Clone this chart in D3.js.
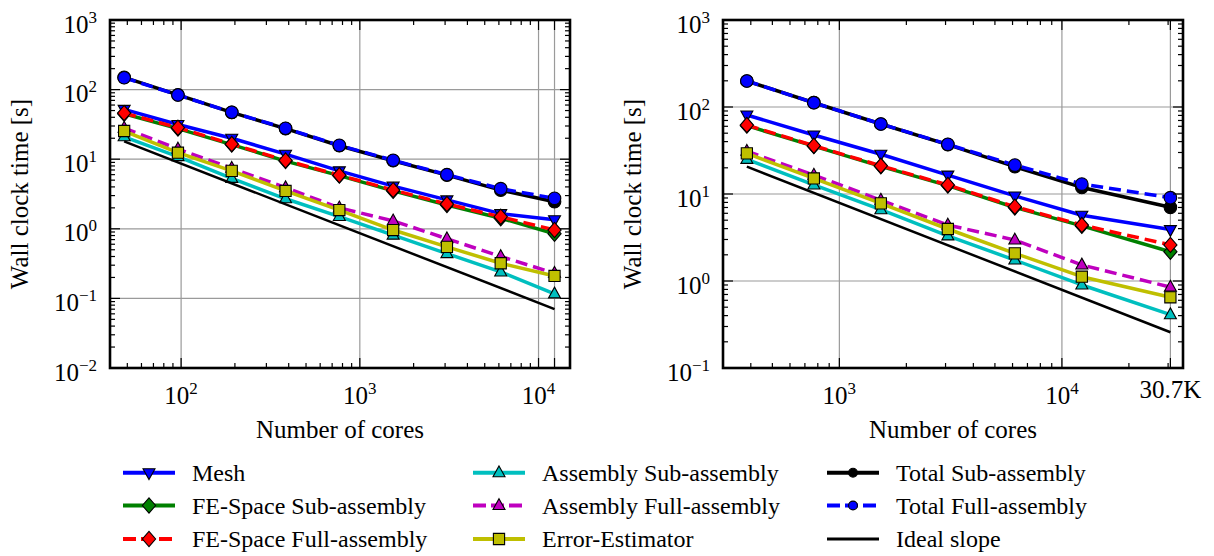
<!DOCTYPE html>
<html><head><meta charset="utf-8">
<script src="https://cdn.jsdelivr.net/npm/d3@7"></script>
<style>
body{margin:0;background:#fff}
svg{display:block}
svg text{font-family:"Liberation Serif","Tinos","Times New Roman","DejaVu Serif",serif;fill:#000}
</style>
</head><body>
<svg id="c" width="1214" height="556"></svg>
<script>
// ---------- data ----------
const seriesNames = ["Mesh","FE-Space Sub-assembly","FE-Space Full-assembly","Assembly Sub-assembly","Assembly Full-assembly","Error-Estimator","Total Sub-assembly","Total Full-assembly","Ideal slope"];

// left panel
const coresL = [48, 96, 192, 384, 768, 1536, 3072, 6144, 12288];
const meshL    = [52, 31.5, 20, 11.8, 6.8, 4.1, 2.6, 1.65, 1.35];
const feSubL   = [45, 27.5, 16.2, 9.4, 5.8, 3.5, 2.2, 1.42, 0.85];
const feFullL  = [46, 28.4, 16.5, 9.6, 5.9, 3.6, 2.27, 1.49, 0.96];
const asmSubL  = [21, 10.9, 5.3, 2.7, 1.5, 0.81, 0.44, 0.24, 0.116];
const asmFullL = [28, 14, 7.4, 3.9, 2.0, 1.3, 0.72, 0.40, 0.23];
const errL     = [25.4, 12.4, 6.8, 3.5, 1.86, 0.96, 0.55, 0.32, 0.21];
const totSubL  = [150, 84, 47, 27.5, 15.6, 9.5, 5.9, 3.6, 2.45];
const totFullL = [148, 83.6, 47.2, 27.8, 15.8, 9.65, 6.0, 3.77, 2.74];
const idealCoresL = [48, 12288];
const idealL   = [18, 0.0703];
const xTickExpL = [2, 3, 4];
const yTickExpL = [-2, -1, 0, 1, 2, 3];
const extraCoreL = 12288;

// right panel
const coresR = [384, 768, 1536, 3072, 6144, 12288, 30720];
const meshR    = [81, 47.6, 28.6, 16.5, 9.5, 5.7, 3.9];
const feSubR   = [61, 35.5, 20.8, 12.5, 7.0, 4.3, 2.17];
const feFullR  = [62, 35.9, 21.1, 12.7, 7.14, 4.4, 2.6];
const asmSubR  = [25, 12.7, 6.6, 3.3, 1.74, 0.90, 0.41];
const asmFullR = [31, 16.5, 8.5, 4.4, 2.96, 1.53, 0.85];
const errR     = [29.3, 15.1, 7.8, 3.96, 2.08, 1.12, 0.65];
const totSubR  = [199, 112, 63.8, 37, 20.6, 11.9, 7.03];
const totFullR = [199, 112, 63.8, 37.2, 21.5, 13.0, 9.08];
const idealCoresR = [384, 30720];
const idealR   = [20.6, 0.2575];
const xTickExpR = [3, 4];
const yTickExpR = [-1, 0, 1, 2, 3];
const extraCoreR = 30720;
const extraLabelR = "30.7K";

// ---------- styles ----------
const FONT = '"Liberation Serif","Tinos","Times New Roman","DejaVu Serif",serif';
const styles = [
  {color:"#0000ff", dash:null, marker:"triDown"},
  {color:"#008000", dash:null, marker:"diamond"},
  {color:"#ff0000", dash:"12,6", marker:"diamond"},
  {color:"#00bfbf", dash:null, marker:"triUp"},
  {color:"#bf00bf", dash:"12,6", marker:"triUp"},
  {color:"#bfbf00", dash:null, marker:"square"},
  {color:"#000000", dash:null, marker:"circle"},
  {color:"#0000ff", dash:"12,6", marker:"circle"},
  {color:"#000000", dash:null, marker:null, width:2.5}
];

function markerPath(type, k){
  k = k || 1;
  switch(type){
    case "circle": { const r=6.3*k; return `M${-r},0a${r},${r} 0 1,0 ${2*r},0a${r},${r} 0 1,0 ${-2*r},0Z`; }
    case "diamond": { const w=6.6*k,h=7.6*k; return `M0,${-h}L${w},0L0,${h}L${-w},0Z`; }
    case "square": { const s=5.6*k; return `M${-s},${-s}H${s}V${s}H${-s}Z`; }
    case "triUp": { return `M0,${-6.8*k}L${6*k},${4*k}L${-6*k},${4*k}Z`; }
    case "triDown": { return `M0,${6.8*k}L${6*k},${-4*k}L${-6*k},${-4*k}Z`; }
  }
  return "";
}

const svg = d3.select("#c");
const FS = 25, SUPFS = 17;

function txt(g){ return g.append("text").attr("font-family", FONT).attr("fill", "#000"); }

function supText(g, x, y, base, exp, anchor){
  const t = txt(g).attr("x", x).attr("y", y).attr("text-anchor", anchor).attr("font-size", FS);
  t.append("tspan").text(base);
  t.append("tspan").attr("dy", -10).attr("font-size", SUPFS).text(exp);
  return t;
}

function drawPanel(cfg){
  const g = svg.append("g");
  const x = d3.scaleLog().domain(cfg.xdom).range([cfg.left, cfg.right]);
  const y = d3.scaleLog().domain(cfg.ydom).range([cfg.bottom, cfg.top]);
  const clipId = "clip" + cfg.id;
  svg.append("clipPath").attr("id", clipId).append("rect")
    .attr("x", cfg.left).attr("y", cfg.top).attr("width", cfg.right-cfg.left).attr("height", cfg.bottom-cfg.top);

  // grid
  const gridX = cfg.xExp.map(e => Math.pow(10, e)).concat([cfg.extra]);
  const gridY = cfg.yExp.map(e => Math.pow(10, e));
  g.append("g").selectAll("line").data(gridX).join("line")
    .attr("x1", d => x(d)).attr("x2", d => x(d)).attr("y1", cfg.top).attr("y2", cfg.bottom)
    .attr("stroke", "#9a9a9a").attr("stroke-width", 1.2);
  g.append("g").selectAll("line").data(gridY).join("line")
    .attr("y1", d => y(d)).attr("y2", d => y(d)).attr("x1", cfg.left).attr("x2", cfg.right)
    .attr("stroke", "#9a9a9a").attr("stroke-width", 1.2);

  // series
  const sg = g.append("g").attr("clip-path", `url(#${clipId})`);
  cfg.series.forEach((s, i) => {
    const st = styles[i];
    const pts = s.cores.map((c, j) => [c, s.vals[j]]);
    const line = d3.line().x(d => x(d[0])).y(d => y(d[1]));
    sg.append("path").attr("d", line(pts)).attr("fill", "none")
      .attr("stroke", st.color).attr("stroke-width", st.width || 3.5)
      .attr("stroke-dasharray", st.dash).attr("stroke-linejoin", "round");
    if (st.marker){
      sg.append("g").selectAll("path").data(pts).join("path")
        .attr("transform", d => `translate(${x(d[0])},${y(d[1])})`)
        .attr("d", markerPath(st.marker))
        .attr("fill", st.color).attr("stroke", "#000").attr("stroke-width", 1.1);
    }
  });

  // ticks
  const tg = g.append("g").attr("stroke", "#000").attr("stroke-width", 1.2);
  const isMajor = v => Math.abs(Math.log10(v) - Math.round(Math.log10(v))) < 1e-9;
  const xt = x.ticks().filter(v => v > cfg.xdom[0] && v < cfg.xdom[1]);
  xt.forEach(v => {
    const L = isMajor(v) ? 10 : 5;
    tg.append("line").attr("x1", x(v)).attr("x2", x(v)).attr("y1", cfg.bottom).attr("y2", cfg.bottom - L);
    tg.append("line").attr("x1", x(v)).attr("x2", x(v)).attr("y1", cfg.top).attr("y2", cfg.top + L);
  });
  [cfg.extra].forEach(v => {
    tg.append("line").attr("x1", x(v)).attr("x2", x(v)).attr("y1", cfg.bottom).attr("y2", cfg.bottom - 10);
    tg.append("line").attr("x1", x(v)).attr("x2", x(v)).attr("y1", cfg.top).attr("y2", cfg.top + 10);
  });
  const yt = y.ticks().filter(v => v >= cfg.ydom[0] && v <= cfg.ydom[1]);
  yt.forEach(v => {
    const L = isMajor(v) ? 10 : 5;
    tg.append("line").attr("y1", y(v)).attr("y2", y(v)).attr("x1", cfg.left).attr("x2", cfg.left + L);
    tg.append("line").attr("y1", y(v)).attr("y2", y(v)).attr("x1", cfg.right).attr("x2", cfg.right - L);
  });

  // frame
  g.append("rect").attr("x", cfg.left).attr("y", cfg.top)
    .attr("width", cfg.right - cfg.left).attr("height", cfg.bottom - cfg.top)
    .attr("fill", "none").attr("stroke", "#000").attr("stroke-width", 2.6);

  // tick labels
  cfg.xExp.forEach(e => supText(g, x(Math.pow(10, e)), cfg.bottom + 36, "10", String(e), "middle"));
  if (cfg.extraLabel){
    txt(g).attr("x", x(cfg.extra)).attr("y", cfg.bottom + 30).attr("text-anchor", "middle")
      .attr("font-size", FS).text(cfg.extraLabel);
  }
  cfg.yExp.forEach(e => supText(g, cfg.left - 13, y(Math.pow(10, e)) + 12.5, "10", e < 0 ? "\u2212" + (-e) : String(e), "end"));

  // axis labels
  txt(g).attr("x", (cfg.left + cfg.right)/2).attr("y", cfg.bottom + 70)
    .attr("text-anchor", "middle").attr("font-size", FS).text("Number of cores");
  txt(g).attr("transform", `translate(${cfg.ylabX},${(cfg.top + cfg.bottom)/2}) rotate(-90)`)
    .attr("text-anchor", "middle").attr("font-size", FS).text("Wall clock time [s]");
}

drawPanel({
  id: "L", left: 110, right: 570, top: 20, bottom: 368,
  xdom: [40, 15000], ydom: [0.01, 1000],
  xExp: xTickExpL, yExp: yTickExpL, extra: extraCoreL, extraLabel: null, ylabX: 28,
  series: [
    {cores: coresL, vals: meshL}, {cores: coresL, vals: feSubL}, {cores: coresL, vals: feFullL},
    {cores: coresL, vals: asmSubL}, {cores: coresL, vals: asmFullL}, {cores: coresL, vals: errL},
    {cores: coresL, vals: totSubL}, {cores: coresL, vals: totFullL}, {cores: idealCoresL, vals: idealL}
  ]
});
drawPanel({
  id: "R", left: 723, right: 1183, top: 20, bottom: 368,
  xdom: [300, 35000], ydom: [0.1, 1000],
  xExp: xTickExpR, yExp: yTickExpR, extra: extraCoreR, extraLabel: extraLabelR, ylabX: 641,
  series: [
    {cores: coresR, vals: meshR}, {cores: coresR, vals: feSubR}, {cores: coresR, vals: feFullR},
    {cores: coresR, vals: asmSubR}, {cores: coresR, vals: asmFullR}, {cores: coresR, vals: errR},
    {cores: coresR, vals: totSubR}, {cores: coresR, vals: totFullR}, {cores: idealCoresR, vals: idealR}
  ]
});

// legend
const legCols = [123, 473, 827];
const legRows = [472.7, 505.5, 539];
const lg = svg.append("g");
seriesNames.forEach((name, i) => {
  const col = Math.floor(i / 3), row = i % 3;
  const lx = legCols[col], ly = legRows[row];
  const st = styles[i];
  lg.append("line").attr("x1", lx).attr("x2", lx + 52).attr("y1", ly).attr("y2", ly)
    .attr("stroke", st.color).attr("stroke-width", st.marker ? 4 : 3)
    .attr("stroke-dasharray", st.dash ? "13,5" : null);
  if (st.marker){
    lg.append("path").attr("transform", `translate(${lx + 26},${ly})`)
      .attr("d", markerPath(st.marker, st.marker === "circle" ? 0.7 : 1))
      .attr("fill", st.color).attr("stroke", "#000").attr("stroke-width", 1.1);
  }
  txt(lg).attr("x", lx + 69).attr("y", ly + 8).attr("font-size", 24).text(name);
});
</script>
</body></html>
